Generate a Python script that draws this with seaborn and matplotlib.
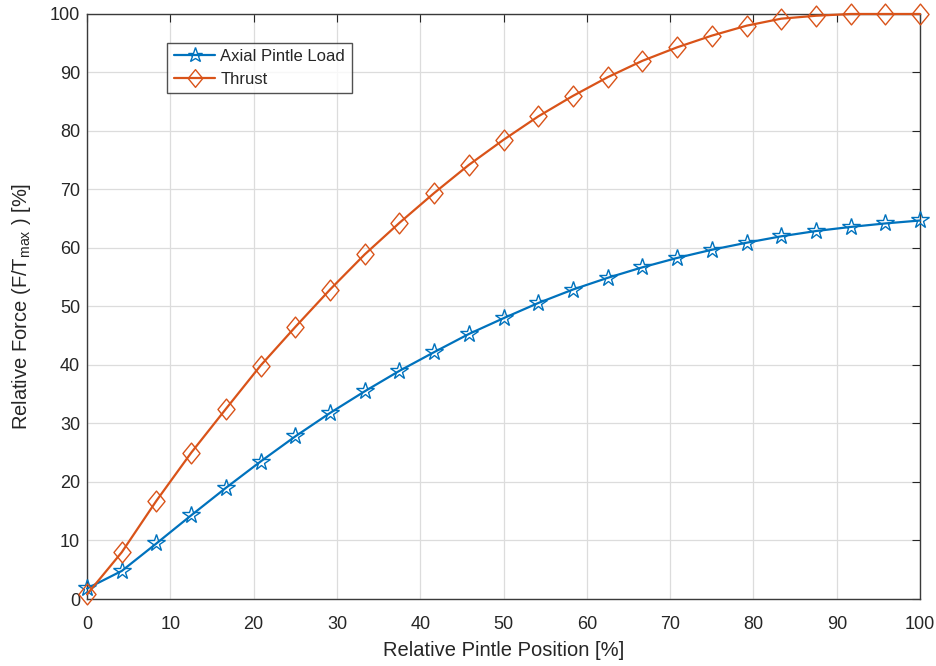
import numpy as np
import pandas as pd
import matplotlib
matplotlib.use("Agg")
import matplotlib.pyplot as plt
from matplotlib.path import Path
import seaborn as sns

# Data
position = [0, 4.17, 8.33, 12.5, 16.67, 20.83, 25, 29.17, 33.33, 37.5, 41.67, 45.83,
            50, 54.17, 58.33, 62.5, 66.67, 70.83, 75, 79.17, 83.33, 87.5, 91.67, 95.83, 100]
axial_load = [1.8, 4.8, 9.5, 14.3, 19.0, 23.5, 27.8, 31.8, 35.5, 39.0, 42.2, 45.3,
              48.0, 50.6, 52.9, 54.9, 56.7, 58.3, 59.7, 60.9, 62.0, 62.9, 63.6, 64.2, 64.7]
thrust = [0.8, 8.0, 16.8, 25.0, 32.5, 39.9, 46.5, 52.9, 58.9, 64.3, 69.4, 74.2,
          78.5, 82.5, 86.0, 89.2, 92.0, 94.3, 96.3, 98.0, 99.2, 99.7, 100.0, 100.0, 100.0]
x_ticks = [0, 10, 20, 30, 40, 50, 60, 70, 80, 90, 100]
y_ticks = [0, 10, 20, 30, 40, 50, 60, 70, 80, 90, 100]

sns.set_style("white")
plt.rcParams['font.family'] = ['Liberation Sans', 'DejaVu Sans']
plt.rcParams['mathtext.fontset'] = 'custom'
plt.rcParams['mathtext.rm'] = 'Liberation Sans'

blue = "#0072BD"
orange = "#D95319"
txt = "#262626"

# MATLAB-like diamond (taller than wide)
diamond = Path([(0, 1), (0.82, 0), (0, -1), (-0.82, 0), (0, 1)],
               [Path.MOVETO, Path.LINETO, Path.LINETO, Path.LINETO, Path.CLOSEPOLY])

fig = plt.figure(figsize=(9.36, 6.66), dpi=100)
ax = fig.add_axes([0.093, 0.1006, 0.890, 0.8784])

df = pd.DataFrame({"pos": position, "axial": axial_load, "thrust": thrust})

sns.lineplot(data=df, x="pos", y="axial", ax=ax, color=blue, lw=1.6,
             marker="*", markersize=13, markerfacecolor="none",
             markeredgecolor=blue, markeredgewidth=1.0,
             label="Axial Pintle Load", clip_on=False, zorder=3)
sns.lineplot(data=df, x="pos", y="thrust", ax=ax, color=orange, lw=1.6,
             marker=diamond, markersize=15, markerfacecolor="none",
             markeredgecolor=orange, markeredgewidth=1.0,
             label="Thrust", clip_on=False, zorder=3)

ax.set_xlim(0, 100)
ax.set_ylim(0, 100)
ax.set_xticks(x_ticks)
ax.set_yticks(y_ticks)
ax.grid(True, color="#dcdcdc", lw=0.9)
ax.set_axisbelow(True)
for s in ax.spines.values():
    s.set_color("#3a3a3a")
    s.set_linewidth(1.0)
ax.tick_params(direction="in", length=6, width=0.8, colors=txt, labelsize=13,
               top=True, right=True)
ax.tick_params(axis="x", pad=12)
ax.tick_params(axis="y", pad=5)
ax.set_xlabel("Relative Pintle Position [%]", fontsize=14.5, color=txt, labelpad=6)
ax.set_ylabel("Relative Force (F/T$_{\\mathrm{max}}$ ) [%]", fontsize=14.5, color=txt, labelpad=12)

leg = ax.legend(loc="upper left", bbox_to_anchor=(0.096, 0.951), frameon=True,
                fancybox=False, edgecolor=txt, fontsize=12, borderpad=0.4,
                handlelength=2.5, labelspacing=0.45, handletextpad=0.3,
                borderaxespad=0, markerscale=0.85)
leg.get_frame().set_linewidth(1.0)
for t in leg.get_texts():
    t.set_color(txt)

fig.savefig("out.png", dpi=100)
